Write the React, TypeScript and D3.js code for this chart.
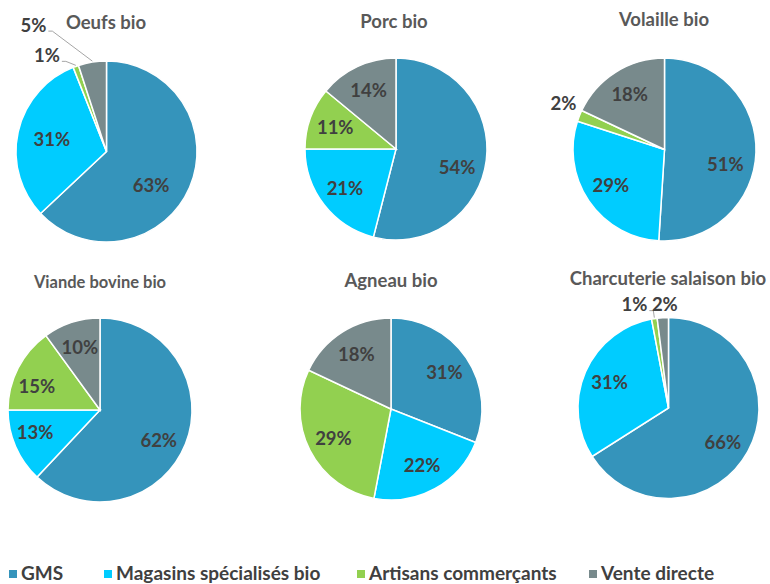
import * as d3 from 'd3';

// catégories (ordre horaire depuis midi)
const categories = ['GMS', 'Magasins spécialisés bio', 'Artisans commerçants', 'Vente directe'];
const colors = ['#3594BB', '#00CCFF', '#92D050', '#788A8C'];

const titles = ['Oeufs bio', 'Porc bio', 'Volaille bio', 'Viande bovine bio', 'Agneau bio', 'Charcuterie salaison bio'];

const oeufs = [63, 31, 1, 5];
const porc = [54, 21, 11, 14];
const volaille = [51, 29, 2, 18];
const viandeBovine = [62, 13, 15, 10];
const agneau = [31, 22, 29, 18];
const charcuterie = [66, 31, 1, 2];

const series = [oeufs, porc, volaille, viandeBovine, agneau, charcuterie];

// layout
const W = 770;
const H = 584;
const centers: [number, number][] = [
  [106.5, 151.5], [396, 149], [664.5, 149.5],
  [100, 410], [391, 409], [668.5, 408],
];
const radii = [90.5, 91, 91.5, 92, 91, 90.5];
const titleY = [29, 28, 26, 288, 287, 285];
const titleX = [106, 394, 664, 100, 391, 668];
const titleSize = [18.5, 18.5, 18.5, 16.5, 18.5, 18.5];
const labelK = [0.62, 0.71, 0.71, 0.71, 0.71, 0.71];
const labelSize = 18.5;

// petits déplacements d'étiquettes internes [pie, slice, dx, dy]
const nudges: [number, number, number, number][] = [
  [0, 0, -7, 12], [1, 0, -3, 10], [2, 0, -4, 13],
  [3, 0, -2, 6], [3, 1, -5, -3], [3, 2, -5, 6], [5, 0, -2, 4],
];
// étiquettes externes [pie, slice, dx, dy, leader]
const outside: [number, number, number, number, number][] = [
  [0, 2, -29, -11, 1], [0, 3, -59, -37, 1], [2, 2, -16, -12, 0],
  [5, 2, -20, -14, 1], [5, 3, 2, -13, 0],
];

const legendX = [9, 104, 357, 589];

const font = 'Lato, "Open Sans", sans-serif';

function Pie({ idx }: { idx: number }) {
  const values = series[idx];
  const total = d3.sum(values);
  const [cx, cy] = centers[idx];
  const r = radii[idx];
  const arcs = d3.pie<number>().sort(null).value((d) => d)(values);
  const arc = d3.arc<d3.PieArcDatum<number>>().innerRadius(0).outerRadius(r);
  return (
    <g transform={`translate(${cx},${cy})`}>
      {arcs.map((a, i) => (
        <path key={i} d={arc(a) || ''} fill={colors[i]} stroke="#fff" strokeWidth={1.5} />
      ))}
      {arcs.map((a, i) => {
        const mid = (a.startAngle + a.endAngle) / 2;
        const label = Math.round((a.value / total) * 100) + '%';
        const out = outside.find((o) => o[0] === idx && o[1] === i);
        if (out) {
          const ox = r * Math.sin(mid);
          const oy = -r * Math.cos(mid);
          const lx = ox + out[2];
          const ly = oy + out[3];
          const ex = lx + (lx < ox ? 15 : -15);
          return (
            <g key={'l' + i}>
              {out[4] ? (
                <polyline
                  points={`${ox},${oy - 1} ${ex + (lx < ox ? 4 : -4)},${ly + 6} ${ex},${ly + 6}`}
                  fill="none" stroke="#A6A6A6" strokeWidth={1}
                />
              ) : null}
              <text x={lx} y={ly} dy="0.35em" textAnchor="middle" fontSize={labelSize} fontWeight={700} fill="#404040" fontFamily={font}>{label}</text>
            </g>
          );
        }
        const k = labelK[idx] * r;
        const n = nudges.find((o) => o[0] === idx && o[1] === i);
        const x = k * Math.sin(mid) + (n ? n[2] : 0);
        const y = -k * Math.cos(mid) + (n ? n[3] : 0);
        return (
          <text key={'l' + i} x={x} y={y} dy="0.35em" textAnchor="middle" fontSize={labelSize} fontWeight={700} fill="#404040" fontFamily={font}>{label}</text>
        );
      })}
    </g>
  );
}

export default function App() {
  return (
    <svg width={W} height={H} style={{ position: 'absolute', left: 0, top: 0, background: '#fff' }}>
      {titles.map((t, i) => (
        <text key={t} x={titleX[i]} y={titleY[i]} textAnchor="middle" fontSize={titleSize[i]} fontWeight={700} fill="#595959" fontFamily={font}>{t}</text>
      ))}
      {series.map((_, i) => <Pie key={i} idx={i} />)}
      <g>
        {categories.map((c, i) => (
          <g key={c}>
            <rect x={legendX[i]} y={570} width={8} height={8} fill={colors[i]} />
            <text x={legendX[i] + 12} y={580} fontSize={19} fontWeight={700} fill="#404040" fontFamily={font}>{c}</text>
          </g>
        ))}
      </g>
    </svg>
  );
}
